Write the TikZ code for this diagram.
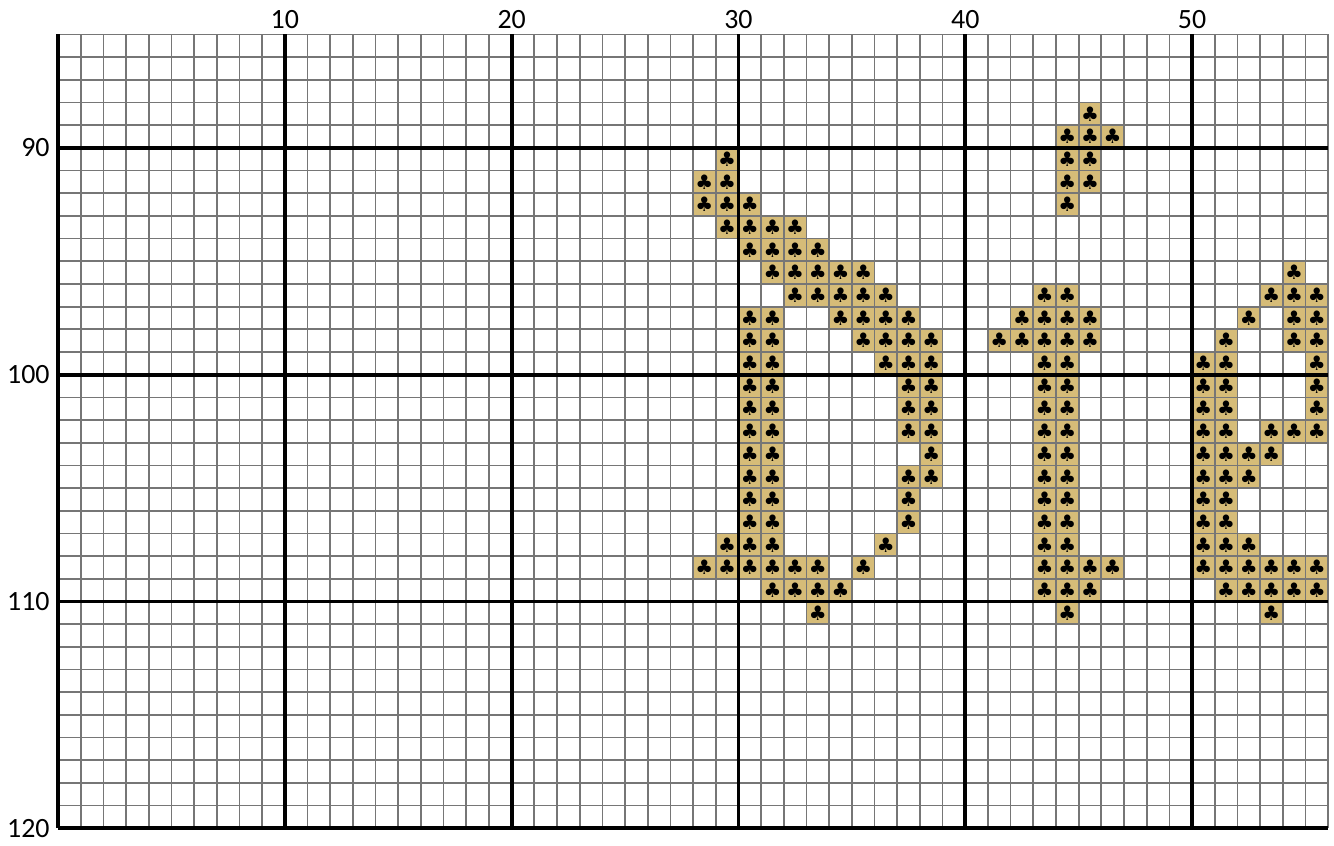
\documentclass[tikz,border=0pt]{standalone}
\usepackage{fontspec}
\setmainfont{Carlito}
\newfontfamily\clubfont{DejaVu Sans}
\definecolor{stitchtan}{RGB}{214,188,120}
\definecolor{gridgray}{RGB}{118,118,118}

\begin{document}
\begin{tikzpicture}[x=0.6cm,y=-0.6cm,
  minor/.style={gridgray,line width=1.3pt},
  major/.style={black,line width=2.8pt},
  cell/.style={fill=stitchtan},
  club/.style={font=\clubfont\fontsize{15}{15}\selectfont,inner sep=0pt},
  label/.style={font=\fontsize{21}{21}\selectfont,inner sep=0pt}]
\useasboundingbox (-2.56,83.48) rectangle (56.26,120.74);
\foreach \r/\cols in {88/{45},89/{44,45,46},90/{29,44,45},91/{28,29,44,45},
  92/{28,29,30,44},93/{29,30,31,32},94/{30,31,32,33},95/{31,32,33,34,35,54},
  96/{32,33,34,35,36,43,44,53,54,55},97/{30,31,34,35,36,37,42,43,44,45,52,54,55},
  98/{30,31,35,36,37,38,41,42,43,44,45,51,54,55},99/{30,31,36,37,38,43,44,50,51,55},
  100/{30,31,37,38,43,44,50,51,55},101/{30,31,37,38,43,44,50,51,55},
  102/{30,31,37,38,43,44,50,51,53,54,55},103/{30,31,38,43,44,50,51,52,53},
  104/{30,31,37,38,43,44,50,51,52},105/{30,31,37,43,44,50,51},
  106/{30,31,37,43,44,50,51},107/{29,30,31,36,43,44,50,51,52},
  108/{28,29,30,31,32,33,35,43,44,45,46,50,51,52,53,54,55},
  109/{31,32,33,34,43,44,45,51,52,53,54,55},110/{33,44,53}}
  \foreach \c in \cols
    \fill[cell] (\c,\r) rectangle ++(1,1);
\foreach \c in {1,...,56}
  \draw[minor] (\c,85) -- (\c,120);
\foreach \r in {85,...,119}
  \draw[minor] (0,\r) -- (56,\r);
\foreach \c in {0,10,...,50}
  \draw[major] (\c,85) -- (\c,120);
\foreach \r in {90,100,110,120}
  \draw[major] (0,\r) -- (56,\r);
\foreach \r/\cols in {88/{45},89/{44,45,46},90/{29,44,45},91/{28,29,44,45},
  92/{28,29,30,44},93/{29,30,31,32},94/{30,31,32,33},95/{31,32,33,34,35,54},
  96/{32,33,34,35,36,43,44,53,54,55},97/{30,31,34,35,36,37,42,43,44,45,52,54,55},
  98/{30,31,35,36,37,38,41,42,43,44,45,51,54,55},99/{30,31,36,37,38,43,44,50,51,55},
  100/{30,31,37,38,43,44,50,51,55},101/{30,31,37,38,43,44,50,51,55},
  102/{30,31,37,38,43,44,50,51,53,54,55},103/{30,31,38,43,44,50,51,52,53},
  104/{30,31,37,38,43,44,50,51,52},105/{30,31,37,43,44,50,51},
  106/{30,31,37,43,44,50,51},107/{29,30,31,36,43,44,50,51,52},
  108/{28,29,30,31,32,33,35,43,44,45,46,50,51,52,53,54,55},
  109/{31,32,33,34,43,44,45,51,52,53,54,55},110/{33,44,53}}
  \foreach \c in \cols
    \node[club] (s\c-\r) at (\c+0.5,\r+0.5) {♣};
\foreach \c in {10,20,...,50}
  \node[label] (col\c) at (\c,84.34) {\c};
\foreach \r in {90,100,110,120}
  \node[label,anchor=east] (row\r) at (-0.36,\r) {\r};
\end{tikzpicture}
\end{document}
